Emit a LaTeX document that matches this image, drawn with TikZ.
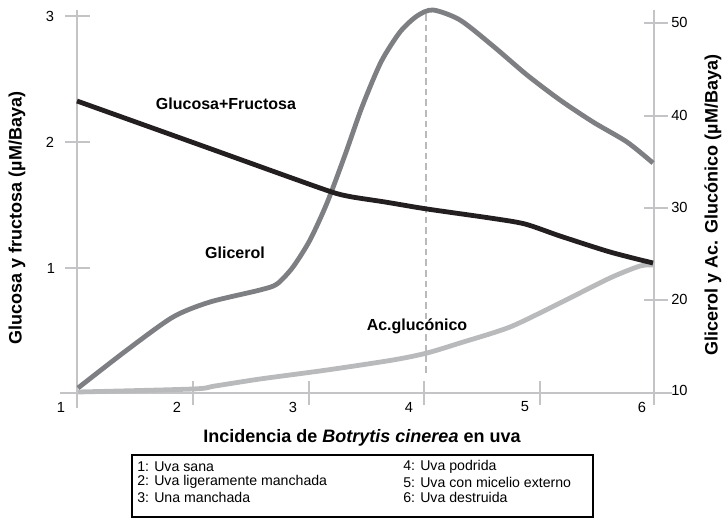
\documentclass[tikz,border=0pt]{standalone}
\usepackage{fontspec}
\setmainfont{Liberation Sans}
\definecolor{axisgray}{HTML}{C4C4C6}
\definecolor{glugray}{HTML}{231F20}
\definecolor{glygray}{HTML}{7E7F82}
\definecolor{acgray}{HTML}{B9BABC}
\tikzset{
	axis/.style={color=axisgray, line width=1.3pt},
	curve/.style={line width=3.6pt, line join=round, smooth, tension=0.45},
	ticklabel/.style={font=\fontsize{11}{13}\selectfont, inner sep=0pt},
	curvelabel/.style={font=\fontsize{12}{14}\selectfont\bfseries, inner sep=0pt},
	title/.style={font=\fontsize{13.5}{16}\selectfont\bfseries, inner sep=0pt},
	keytext/.style={font=\fontsize{10.6}{12}\selectfont, anchor=west, inner sep=0pt}
}
\begin{document}
\begin{tikzpicture}[x=0.75pt, y=-0.75pt]
	\useasboundingbox (0, 0) rectangle (725, 520);
	% axes
	\draw [axis] (77, 10) -- (77, 408);
	\draw [axis] (654, 10) -- (654, 405);
	\draw [axis] (60, 393) -- (672, 393);
	\draw [axis] (65, 16) -- (90, 16) (65, 142) -- (90, 142) (65, 268) -- (90, 268);
	\draw [axis] (193, 381) -- (193, 405) (309, 381) -- (309, 405) (424, 381) -- (424, 405) (540, 381) -- (540, 405);
	\draw [axis] (644, 23) -- (668, 23) (644, 116) -- (668, 116) (644, 208) -- (668, 208) (644, 300) -- (668, 300);
	\draw [color=acgray, line width=1.1pt, dash pattern=on 5pt off 3pt] (426, 14) -- (426, 376);
	% tick labels
	\node [ticklabel] (l3) at (50, 16) {3};
	\node [ticklabel] (l2) at (50, 142) {2};
	\node [ticklabel] (l1) at (51, 268) {1};
	\node [ticklabel] (x1) at (61, 407) {1};
	\node [ticklabel] (x2) at (177, 407) {2};
	\node [ticklabel] (x3) at (293, 407) {3};
	\node [ticklabel] (x4) at (409, 407) {4};
	\node [ticklabel] (x5) at (525, 407) {5};
	\node [ticklabel] (x6) at (642, 407) {6};
	\node [ticklabel, anchor=west] (r50) at (671, 22) {50};
	\node [ticklabel, anchor=west] (r40) at (671, 115) {40};
	\node [ticklabel, anchor=west] (r30) at (671, 207) {30};
	\node [ticklabel, anchor=west] (r20) at (671, 299) {20};
	\node [ticklabel, anchor=west] (r10) at (671, 390) {10};
	% curves
	\draw [curve, color=acgray] plot coordinates {(78, 392) (193, 389) (215, 386) (260, 379) (327, 370) (393, 360) (427, 353) (460, 343) (510, 327) (560, 303) (610, 278) (640, 266) (653, 265)};
	\draw [curve, color=glygray] plot coordinates {(78, 388) (127, 350) (173, 317) (210, 302) (260, 290) (277, 284) (293, 267) (310, 240) (327, 203) (345, 155) (362, 107) (381, 62) (400, 32) (417, 16) (433, 10) (460, 20) (493, 46) (527, 75) (560, 100) (593, 122) (627, 142) (653, 163)};
	\draw [curve, color=glugray] plot coordinates {(77, 101) (200, 145) (320, 188) (347, 196) (385, 202) (427, 209) (490, 218) (525, 224) (560, 236) (610, 252) (653, 263)};
	% labels
	\node [curvelabel] (glu) at (226, 104) {Glucosa+Fructosa};
	\node [curvelabel] (gly) at (235, 253) {Glicerol};
	\node [curvelabel] (acg) at (417, 326) {Ac.glucónico};
	\node [title] (xtitle) at (362, 438) {Incidencia de \textit{Botrytis cinerea} en uva};
	\node [title, rotate=90] (ltitle) at (17, 218) {Glucosa y fructosa (µM/Baya)};
	\node [title, rotate=90] (rtitle) at (713, 205) {Glicerol y Ac. Glucónico (µM/Baya)};
	% key
	\draw [line width=1.2pt] (132, 455) rectangle (593, 517);
	\node [keytext] (k1) at (137, 467) {1: Uva sana};
	\node [keytext] (k2) at (137, 482) {2: Uva ligeramente manchada};
	\node [keytext] (k3) at (137, 497) {3: Una manchada};
	\node [keytext] (k4) at (403, 467) {4: Uva podrida};
	\node [keytext] (k5) at (403, 482) {5: Uva con micelio externo};
	\node [keytext] (k6) at (403, 497) {6: Uva destruida};
\end{tikzpicture}
\end{document}
